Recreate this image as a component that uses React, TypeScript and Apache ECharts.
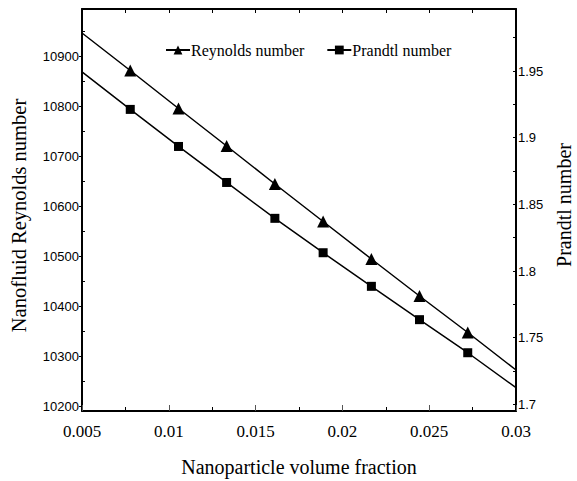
import React, { useEffect, useRef } from "react";
import * as echarts from "echarts";

const xMarkers = [0.00778, 0.01056, 0.01333, 0.01611, 0.01889, 0.02167, 0.02444, 0.02722];
const reynolds = [10871, 10795, 10720, 10644, 10569, 10494, 10420, 10347];
const prandtl = [1.9212, 1.8934, 1.8664, 1.8395, 1.8137, 1.7885, 1.7635, 1.7387];
// fitted-line end points (x = 0.005 and x = 0.03)
const xEnds = [0.005, 0.03];
const reynoldsEnds = [10946, 10272];
const prandtlEnds = [1.9493, 1.7125];

const leftTicks = [10200, 10300, 10400, 10500, 10600, 10700, 10800, 10900];
const leftMinor = [10250, 10350, 10450, 10550, 10650, 10750, 10850, 10950];
const rightTicks = [1.7, 1.75, 1.8, 1.85, 1.9, 1.95];
const rightMinor = [1.725, 1.775, 1.825, 1.875, 1.925, 1.975];

const SERIF = "Liberation Serif";
const SANS = "Liberation Sans";

function buildData(ys: number[], ends: number[]) {
  const pts: any[] = [{ value: [xEnds[0], ends[0]], symbol: "none" }];
  xMarkers.forEach((x, i) => pts.push({ value: [x, ys[i]] }));
  pts.push({ value: [xEnds[1], ends[1]], symbol: "none" });
  return pts;
}

export default function App() {
  const ref = useRef<HTMLDivElement>(null);
  useEffect(() => {
    if (!ref.current) return;
    const chart = echarts.init(ref.current, null, { renderer: "svg" });
    const axisLine = { show: true, lineStyle: { color: "#000", width: 2 } };
    chart.setOption({
      animation: false,
      backgroundColor: "#fff",
      textStyle: { fontFamily: SERIF, color: "#000" },
      grid: { left: 82, right: 61, top: 9, bottom: 70, containLabel: false, outerBoundsMode: "none" },
      legend: {
        left: 160,
        top: 37,
        itemWidth: 24,
        itemHeight: 11,
        itemGap: 22,
        data: ["Reynolds number", "Prandtl number"],
        textStyle: { fontFamily: SERIF, fontSize: 16, color: "#000", padding: [0, 0, 0, -4] },
      },
      xAxis: [
        {
          type: "value",
          min: 0.005,
          max: 0.03,
          interval: 0.005,
          position: "bottom",
          name: "Nanoparticle volume fraction",
          nameLocation: "middle",
          nameGap: 46,
          nameTextStyle: { fontFamily: SERIF, fontSize: 20, color: "#000" },
          axisLine,
          axisTick: { show: true, inside: true, length: 6, lineStyle: { color: "#555", width: 1 } },
          minorTick: { show: true, splitNumber: 2, length: 4, lineStyle: { color: "#000", width: 1 } },
          axisLabel: {
            fontFamily: SERIF,
            fontSize: 17,
            color: "#000",
            margin: 12,
            formatter: (v: number) => String(Number(v.toFixed(4))),
          },
          splitLine: { show: false },
        },
        {
          type: "value",
          min: 0.005,
          max: 0.03,
          interval: 0.0025,
          position: "top",
          axisLine,
          axisTick: { show: true, inside: true, length: 4, lineStyle: { color: "#000", width: 1 } },
          axisLabel: { show: false },
          splitLine: { show: false },
        },
      ],
      yAxis: [
        {
          type: "value",
          min: 10190,
          max: 10994,
          position: "left",
          name: "Nanofluid Reynolds number",
          nameLocation: "middle",
          nameGap: 53,
          nameTextStyle: { fontFamily: SERIF, fontSize: 20.5, color: "#000", padding: [0, 11, 0, 0] },
          axisLine,
          axisTick: { show: true, inside: false, length: 3, customValues: leftTicks, lineStyle: { color: "#000", width: 1 } },
          axisLabel: {
            customValues: leftTicks,
            fontFamily: SANS,
            fontSize: 13,
            color: "#000",
            margin: 3,
            formatter: (v: number) => String(Math.round(v)),
          },
          splitLine: { show: false },
        },
        {
          type: "value",
          min: 1.695,
          max: 1.9965,
          position: "right",
          name: "Prandtl number",
          nameLocation: "middle",
          nameGap: 38,
          nameTextStyle: { fontFamily: SERIF, fontSize: 20, color: "#000", padding: [0, 0, 0, 10] },
          axisLine,
          axisTick: { show: true, inside: true, length: 3, customValues: rightTicks, lineStyle: { color: "#000", width: 1 } },
          axisLabel: {
            customValues: rightTicks,
            fontFamily: SANS,
            fontSize: 13,
            color: "#000",
            margin: 2,
            formatter: (v: number) => String(Number(v.toFixed(3))),
          },
          splitLine: { show: false },
        },
        {
          type: "value",
          min: 10190,
          max: 10994,
          position: "left",
          axisLine: { show: false },
          axisTick: { show: true, inside: true, length: 3, customValues: leftMinor, lineStyle: { color: "#000", width: 1 } },
          axisLabel: { show: false },
          splitLine: { show: false },
        },
        {
          type: "value",
          min: 1.695,
          max: 1.9965,
          position: "right",
          axisLine: { show: false },
          axisTick: { show: true, inside: true, length: 3, customValues: rightMinor, lineStyle: { color: "#000", width: 1 } },
          axisLabel: { show: false },
          splitLine: { show: false },
        },
      ],
      series: [
        {
          name: "Reynolds number",
          type: "line",
          xAxisIndex: 0,
          yAxisIndex: 0,
          data: buildData(reynolds, reynoldsEnds),
          symbol: "triangle",
          symbolSize: 12,
          showAllSymbol: true,
          lineStyle: { color: "#000", width: 1.5 },
          itemStyle: { color: "#000" },
        },
        {
          name: "Prandtl number",
          type: "line",
          xAxisIndex: 0,
          yAxisIndex: 1,
          data: buildData(prandtl, prandtlEnds),
          symbol: "rect",
          symbolSize: 9,
          showAllSymbol: true,
          lineStyle: { color: "#000", width: 1.5 },
          itemStyle: { color: "#000" },
        },
      ],
    });
    return () => chart.dispose();
  }, []);
  return <div ref={ref} style={{ position: "absolute", left: 0, top: 0, width: 577, height: 481 }} />;
}
